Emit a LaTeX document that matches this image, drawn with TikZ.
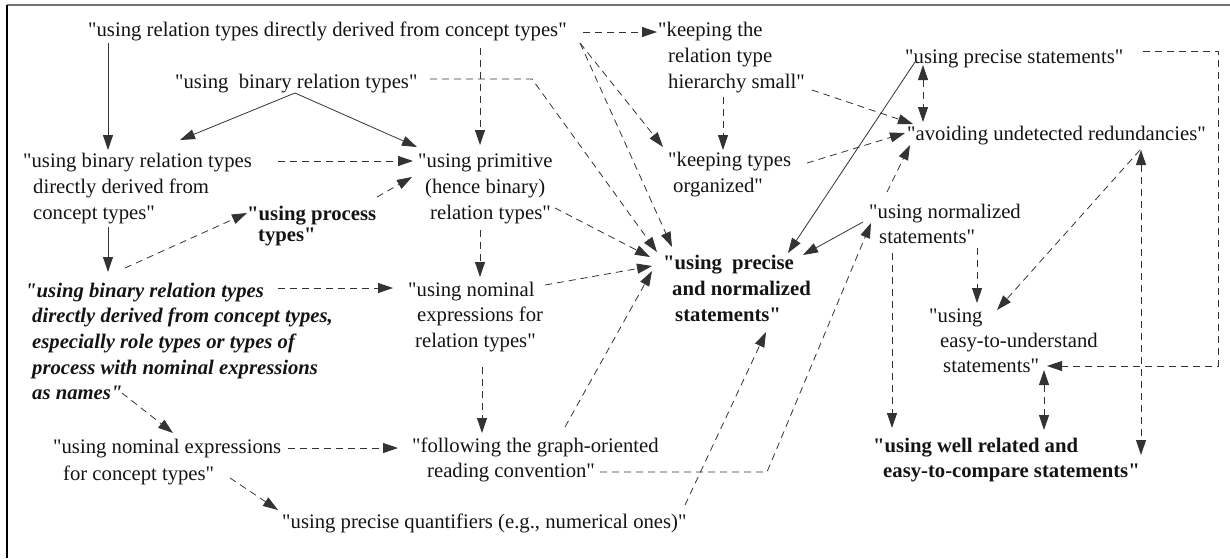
\documentclass[tikz,border=0pt]{standalone}
\usepackage{fontspec}
\setmainfont{Liberation Serif}
\usetikzlibrary{arrows.meta}
\newcommand\qq{\textquotedbl{}}
\tikzset{
  lbl/.style={anchor=north west, inner sep=0pt, align=left, font=\fontsize{20.7}{26}\selectfont, text=black!92},
  bl/.style={lbl, font=\fontsize{20.7}{26}\selectfont\bfseries},
  bi/.style={lbl, font=\fontsize{20.7}{26}\selectfont\bfseries\itshape},
  sol/.style={draw=black!80, line width=0.8pt, -{Triangle[length=15pt,width=10pt]}},
  dsh/.style={sol, dash pattern=on 7pt off 5pt},
  dd/.style={dsh, {Triangle[length=15pt,width=10pt]}-{Triangle[length=15pt,width=10pt]}},
}
\begin{document}
\begin{tikzpicture}[x=1pt,y=-1pt]
\useasboundingbox (0,0) rectangle (1230,558);
\draw[black!55, line width=1.5pt] (7,5) -- (1230,5);
\draw[black, line width=1.2pt] (7,5) -- (7,558);

\node[lbl] (n1) at (88,18.3) {\strut\qq using relation types directly derived from concept types\qq};
\node[lbl] (n2) at (175,69.8) {\strut\qq using\ \ binary relation types\qq};
\node[lbl] (n3) at (23,148.8) {\strut\qq using binary relation types\\\hspace*{10pt}directly derived from\\\hspace*{10pt}concept types\qq};
\node[lbl] (n4) at (418,148.8) {\strut\qq using primitive\\\hspace*{7pt}(hence binary)\\\hspace*{12pt}relation types\qq};
\node[bl] (n5) at (247,201.8) {\strut\qq using process\\[-4.5pt]\hspace*{11pt}types\qq};
\node[bi] (n6) at (25,278.8) {\strut\qq using binary relation types\\[-0.4pt]\hspace*{7pt}directly derived from concept types,\\[-0.4pt]\hspace*{7pt}especially role types or types of\\[-0.4pt]\hspace*{7pt}process with nominal expressions\\[-0.4pt]\hspace*{7pt}as names\qq};
\node[lbl] (n7) at (408,277.8) {\strut\qq using nominal\\[-0.5pt]\hspace*{9pt}expressions for\\[-0.5pt]\hspace*{7pt}relation types\qq};
\node[lbl] (n8) at (53,434.8) {\strut\qq using nominal expressions\\[1pt]\hspace*{10pt}for concept types\qq};
\node[lbl] (n9) at (412,433.8) {\strut\qq following the graph-oriented\\[-1pt]\hspace*{15pt}reading convention\qq};
\node[lbl] (n10) at (282,509.8) {\strut\qq using precise quantifiers (e.g., numerical ones)\qq};
\node[bl] (n11) at (663,250.8) {\strut\qq using\ \ precise\\\hspace*{9pt}and normalized\\\hspace*{12pt}statements\qq};
\node[lbl] (n12) at (869,199.8) {\strut\qq using normalized\\[-1pt]\hspace*{10pt}statements\qq};
\node[lbl] (n13) at (668,147.8) {\strut\qq keeping types\\\hspace*{5pt}organized\qq};
\node[lbl] (n14) at (658,17.8) {\strut\qq keeping the\\\hspace*{10pt}relation type\\\hspace*{10pt}hierarchy small\qq};
\node[lbl] (n15) at (907,121.8) {\strut\qq avoiding undetected redundancies\qq};
\node[lbl] (n16) at (905,44.8) {\strut\qq using precise statements\qq};
\node[lbl] (n17) at (929,303.8) {\strut\qq using\\[-1pt]\hspace*{11pt}easy-to-understand\\[-1pt]\hspace*{14pt}statements\qq};
\node[bl] (n18) at (873,433.8) {\strut\qq using well related and\\[-1pt]\hspace*{10pt}easy-to-compare statements\qq};

\draw[sol] ([shift={(20,24.7)}]n1.north west) -- ([shift={(85,1.2)}]n3.north west);
\draw[sol] ([shift={(120,23.2)}]n2.north west) -- ([shift={(157,-8.8)}]n3.north west);
\draw[sol] ([shift={(120,23.2)}]n2.north west) -- ([shift={(-1,-1.8)}]n4.north west);
\draw[dsh] ([shift={(255,12.2)}]n3.north west) -- ([shift={(-5,12.2)}]n4.north west);
\draw[dsh] ([shift={(130,-4.8)}]n5.north west) -- ([shift={(-6,28.2)}]n4.north west);
\draw[sol] ([shift={(85,78.2)}]n3.north west) -- ([shift={(83,-6.8)}]n6.north west);
\draw[dsh] ([shift={(100,-10.8)}]n6.north west) -- ([shift={(0,11.2)}]n5.north west);
\draw[dsh] ([shift={(392,29.7)}]n1.north west) -- ([shift={(62,-3.8)}]n4.north west);
\draw[dsh] ([shift={(495,13.7)}]n1.north west) -- ([shift={(-1,14.2)}]n14.north west);
\draw[dsh] ([shift={(492,24.7)}]n1.north west) -- ([shift={(-5,-0.8)}]n13.north west);
\draw[dsh] ([shift={(492,24.7)}]n1.north west) -- ([shift={(9,-3.8)}]n11.north west);
\draw[dsh] ([shift={(255,9.2)}]n2.north west) -- ([shift={(357,9.2)}]n2.north west) -- ([shift={(-6,1.2)}]n11.north west);
\draw[dsh] ([shift={(137,59.2)}]n4.north west) -- ([shift={(-13,6.2)}]n11.north west);
\draw[dsh] ([shift={(62,81.2)}]n4.north west) -- ([shift={(72,-0.8)}]n7.north west);
\draw[dsh] ([shift={(253,9.2)}]n6.north west) -- ([shift={(-15,10.2)}]n7.north west);
\draw[dsh] ([shift={(137,7.2)}]n7.north west) -- ([shift={(-11,15.2)}]n11.north west);
\draw[dsh] ([shift={(74,89.2)}]n7.north west) -- ([shift={(70,-0.8)}]n9.north west);
\draw[dsh] ([shift={(97,114.2)}]n6.north west) -- ([shift={(120,-1.8)}]n8.north west);
\draw[dsh] ([shift={(235,13.2)}]n8.north west) -- ([shift={(-14,14.2)}]n9.north west);
\draw[dsh] ([shift={(177,43.2)}]n8.north west) -- ([shift={(-4,0.2)}]n10.north west);
\draw[dsh] ([shift={(153,-6.8)}]n9.north west) -- ([shift={(-11,20.2)}]n11.north west);
\draw[dsh] ([shift={(188,38.2)}]n9.north west) -- ([shift={(355,38.2)}]n9.north west) -- ([shift={(2,23.2)}]n12.north west);
\draw[dsh] ([shift={(403,-4.8)}]n10.north west) -- ([shift={(103,81.2)}]n11.north west);
\draw[dsh] ([shift={(65,79.2)}]n14.north west) -- ([shift={(55,2.2)}]n13.north west);
\draw[dsh] ([shift={(154,72.2)}]n14.north west) -- ([shift={(6,2.2)}]n15.north west);
\draw[dsh] ([shift={(139,15.2)}]n13.north west) -- ([shift={(-2,11.2)}]n15.north west);
\draw[sol] ([shift={(10,17.2)}]n16.north west) -- ([shift={(125,2.2)}]n11.north west);
\draw[sol] ([shift={(-6,22.2)}]n12.north west) -- ([shift={(140,4.2)}]n11.north west);
\draw[dd] ([shift={(18,20.2)}]n16.north west) -- ([shift={(16,0.2)}]n15.north west);
\draw[dsh] ([shift={(18,-7.8)}]n12.north west) -- ([shift={(3,23.2)}]n15.north west);
\draw[dsh] ([shift={(238,6.2)}]n16.north west) -- ++(75,0) |- ([shift={(118,62.2)}]n17.north west);
\draw[dsh] ([shift={(108,48.2)}]n12.north west) -- ([shift={(48,-0.8)}]n17.north west);
\draw[dsh] ([shift={(23,53.2)}]n12.north west) -- ([shift={(19,-5.8)}]n18.north west);
\draw[dsh] ([shift={(233,28.2)}]n15.north west) -- ([shift={(68,6.2)}]n17.north west);
\draw[dd] ([shift={(234,28.2)}]n15.north west) -- ([shift={(268,21.2)}]n18.north west);
\draw[dd] ([shift={(115,66.2)}]n17.north west) -- ([shift={(171,-3.8)}]n18.north west);
\end{tikzpicture}
\end{document}
